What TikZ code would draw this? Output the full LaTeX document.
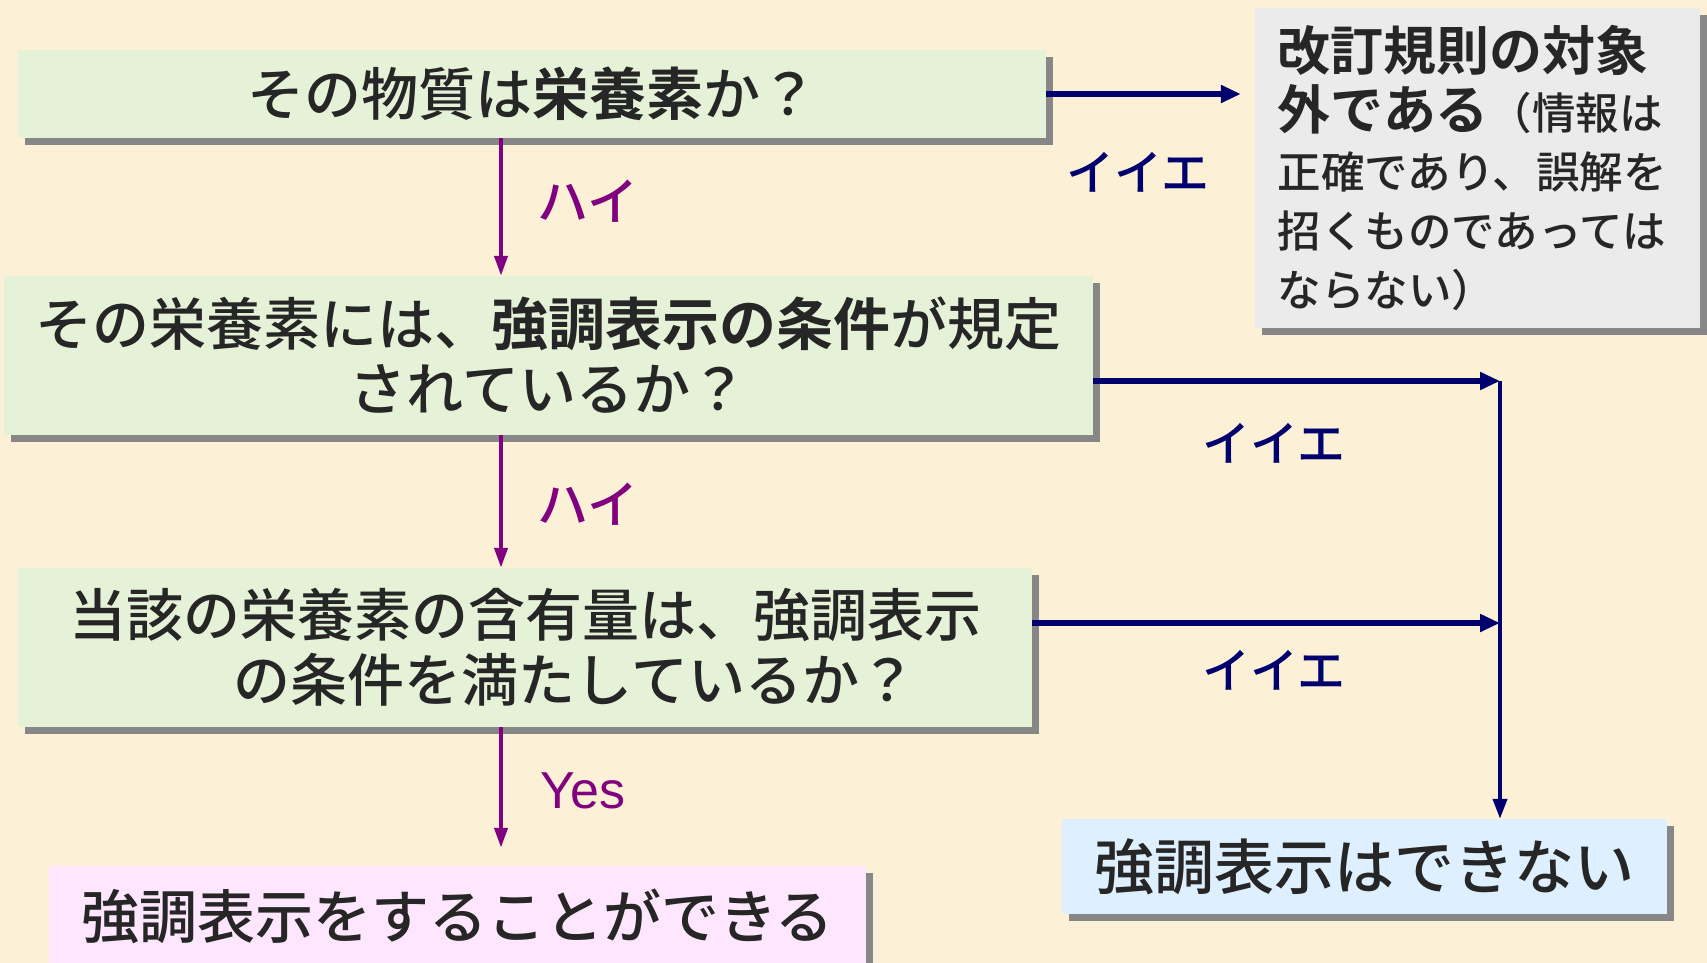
\documentclass[tikz,border=0pt]{standalone}
\usepackage{fontspec}
\setmainfont{Noto Sans CJK JP Medium}[BoldFont={Noto Sans CJK JP Bold}]
\newfontfamily\latinfont{Liberation Sans}
\usetikzlibrary{arrows.meta,shadows}
\definecolor{bgcol}{RGB}{252,241,214}
\definecolor{boxgreen}{RGB}{230,242,216}
\definecolor{boxgray}{RGB}{235,235,235}
\definecolor{boxpink}{RGB}{255,230,255}
\definecolor{boxblue}{RGB}{222,240,255}
\definecolor{shadowgray}{RGB}{135,135,135}
\definecolor{txt}{RGB}{38,38,38}
\definecolor{navy}{RGB}{0,0,110}
\definecolor{purp}{RGB}{128,0,128}
\begin{document}
\begin{tikzpicture}[x=1pt,y=-1pt,
  box/.style={draw=none, inner sep=0pt, text=txt, align=center,
    drop shadow={shadow xshift=7pt, shadow yshift=-7pt, fill=shadowgray, opacity=1}},
  yesline/.style={draw=purp, line width=4pt, -{Triangle[length=20pt,width=13pt]}},
  noline/.style={draw=navy, line width=6pt, -{Triangle[length=20pt,width=17pt]}},
  novline/.style={draw=navy, line width=4pt, -{Triangle[length=20pt,width=14pt]}},
  yeslabel/.style={text=purp, inner sep=0pt, font=\fontsize{51}{58}\selectfont},
  nolabel/.style={text=navy, inner sep=0pt, font=\fontsize{48}{56}\selectfont}]
\fill[bgcol] (0,0) rectangle (1707,963);
\useasboundingbox (0,0) rectangle (1707,963);

\node[box, fill=boxgreen, minimum width=1028pt, minimum height=88pt,
  font=\fontsize{57}{65}\selectfont] (q1) at (532,94) {その物質は\textbf{栄養素}か？};
\node[box, fill=boxgray, minimum width=445pt, minimum height=320pt,
  text width=400pt, align=left, font=\fontsize{43.5}{59}\selectfont] (nout) at (1477.5,168)
  {{\fontsize{53}{59}\selectfont\bfseries 改訂規則の対象}\\
   {\fontsize{53}{59}\selectfont\bfseries 外である}（情報は\\
   正確であり、誤解を\\
   招くものであっては\\
   ならない）};
\node[box, fill=boxgreen, minimum width=1089pt, minimum height=159pt,
  font=\fontsize{57}{65}\selectfont] (q2) at (548.5,355.5)
  {その栄養素には、\textbf{強調表示の条件}が規定\\されているか？};
\node[box, fill=boxgreen, minimum width=1014pt, minimum height=159pt,
  font=\fontsize{57}{65}\selectfont] (q3) at (525,647.5)
  {当該の栄養素の含有量は、強調表示\\\hspace*{100pt}の条件を満たしているか？};
\node[box, fill=boxpink, minimum width=817pt, minimum height=100pt,
  font=\fontsize{58}{66}\selectfont] (yes) at (457.5,916) {強調表示をすることができる};
\node[box, fill=boxblue, minimum width=605pt, minimum height=95pt,
  font=\fontsize{60}{66}\selectfont] (nno) at (1364.5,866.5) {強調表示はできない};

\coordinate (j1) at (1500,381);
\coordinate (j2) at (1500,623);

\draw[yesline] ([xshift=-31pt]q1.south) -- ([xshift=-47.5pt]q2.north);
\draw[yesline] ([xshift=-47.5pt]q2.south) -- ([xshift=-24pt]q3.north);
\draw[yesline, shorten >=18pt] ([xshift=-24pt]q3.south) -- ([xshift=43.5pt]yes.north);

\draw[noline, shorten >=14pt] (q1.east) -- (q1.east -| nout.west);
\draw[noline] ([yshift=-25.5pt]q2.east) -- (j1);
\draw[noline] ([yshift=24.5pt]q3.east) -- (j2);
\draw[novline] (j1) -- (j1 |- nno.north);

\node[nolabel] (l1) at (1138,172) {イイエ};
\node[yeslabel] (l2) at (588,201) {ハイ};
\node[nolabel] (l3) at (1274,443) {イイエ};
\node[yeslabel] (l4) at (588,504) {ハイ};
\node[nolabel] (l5) at (1274,670) {イイエ};
\node[yeslabel, font=\latinfont\fontsize{52}{60}\selectfont] (l6) at (583,791) {Yes};
\end{tikzpicture}
\end{document}
